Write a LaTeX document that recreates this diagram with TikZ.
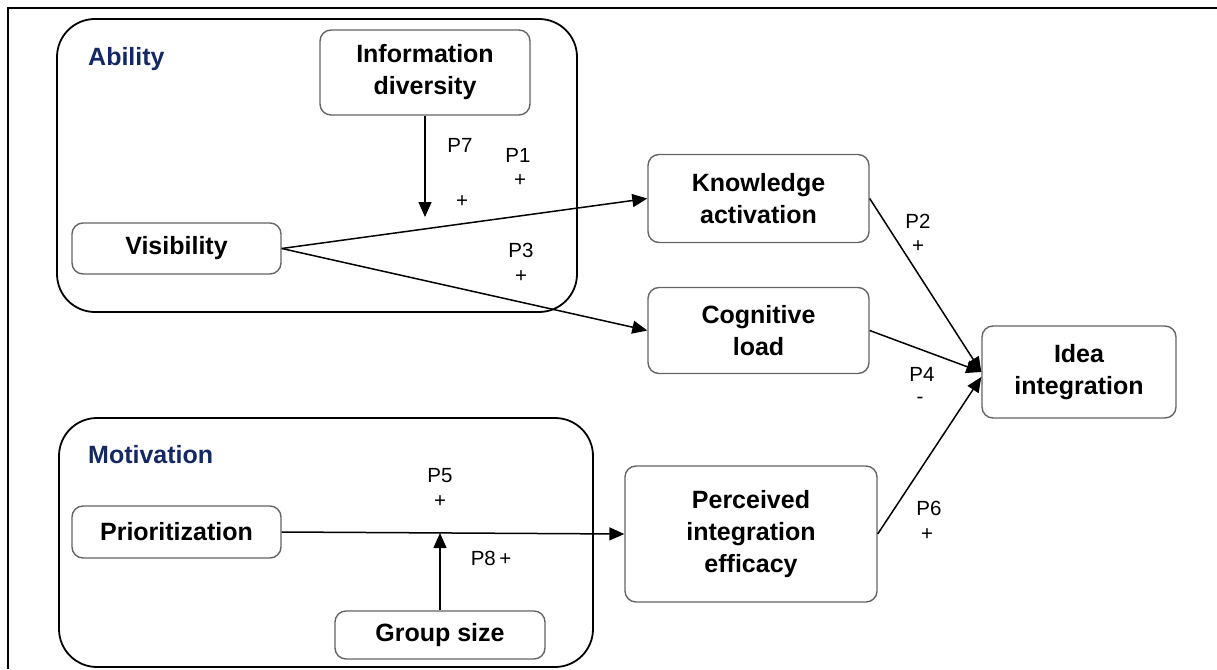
\documentclass[tikz,border=0pt]{standalone}
\usepackage{fontspec}
\setmainfont{Liberation Sans}
\usetikzlibrary{arrows.meta}
\definecolor{boxgray}{RGB}{100,100,100}
\definecolor{navy}{RGB}{20,40,100}
\tikzset{
  var/.style={draw=boxgray, line width=1.4pt, rounded corners=11pt, align=center,
    font=\bfseries\fontsize{25}{32}\selectfont, inner sep=0pt},
  grp/.style={draw=black, line width=1.8pt, rounded corners=38pt},
  grplabel/.style={anchor=base west, text=navy, font=\bfseries\fontsize{25}{30}\selectfont, inner sep=0pt},
  plab/.style={font=\fontsize{20.5}{24}\selectfont, inner sep=0pt},
  conn/.style={line width=1.5pt, -{Triangle[length=15pt,width=13pt]}},
}
\begin{document}
\begin{tikzpicture}[x=1pt,y=-1pt]
\useasboundingbox (0,0) rectangle (1217,669);
% frame
\draw[line width=2pt] (8,669) -- (8,8) -- (1217,8);
% containers
\draw[grp] (57,19) rectangle (577,312);
\draw[grp] (59,418) rectangle (593,667);
\node[grplabel] (abl) at (88,65) {Ability};
\node[grplabel] (mot) at (88,463) {Motivation};
% variables
\node[var, minimum width=210pt, minimum height=85pt] (info) at (425,72.5) {Information\\diversity};
\node[var, minimum width=209pt, minimum height=51pt] (vis) at (176.5,248.5) {Visibility};
\node[var, minimum width=221pt, minimum height=88pt] (know) at (758.5,198.5) {Knowledge\\activation};
\node[var, minimum width=221pt, minimum height=86pt] (cog) at (758.5,330.5) {Cognitive\\load};
\node[var, minimum width=194pt, minimum height=92pt] (idea) at (1079,372) {Idea\\integration};
\node[var, minimum width=252pt, minimum height=136pt] (perc) at (751,534) {Perceived\\integration\\efficacy};
\node[var, minimum width=209pt, minimum height=52pt] (prio) at (176.5,532) {Prioritization};
\node[var, minimum width=210pt, minimum height=48pt] (grp) at (440,635) {Group size};
% moderator end points
\coordinate (m7) at (425,217);
\coordinate (m8) at (440,533);
% connectors
\draw[conn] (info.south) -- (m7);
\draw[conn] (vis.east) -- (know.west);
\draw[conn] (vis.east) -- (cog.west);
\draw[conn] (know.east) -- (idea.west);
\draw[conn] (cog.east) -- (idea.west);
\draw[conn] (perc.east) -- ([yshift=-5pt]idea.west);
\draw[conn] (prio.east) -- (perc.west);
\draw[conn] (grp.north) -- (m8);
% labels
\node[plab] (p7) at (460,145.5) {P7};
\node[plab] (p7s) at (462,202) {+};
\node[plab] (p1) at (518,155.5) {P1};
\node[plab] (p1s) at (520,181) {+};
\node[plab] (p3) at (521,250) {P3};
\node[plab] (p3s) at (521,277) {+};
\node[plab] (p2) at (918,221) {P2};
\node[plab] (p2s) at (918,247) {+};
\node[plab] (p4) at (922,374) {P4};
\node[plab] (p4s) at (920,400) {-};
\node[plab] (p6) at (929,508) {P6};
\node[plab] (p6s) at (927,535) {+};
\node[plab] (p5) at (440,476) {P5};
\node[plab] (p5s) at (440,502) {+};
\node[plab] (p8) at (491,558) {P8\,+};
\end{tikzpicture}
\end{document}
